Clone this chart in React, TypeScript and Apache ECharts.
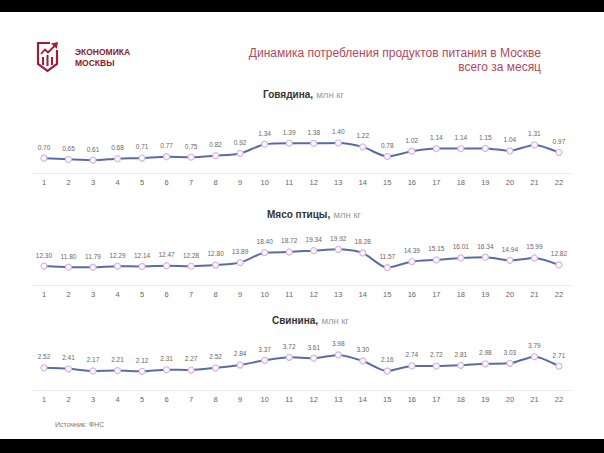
import React, { useEffect, useRef } from "react";
import * as echarts from "echarts";

const days = ["1","2","3","4","5","6","7","8","9","10","11","12","13","14","15","16","17","18","19","20","21","22"];
const beef = [0.70,0.65,0.61,0.68,0.71,0.77,0.75,0.82,0.92,1.34,1.39,1.38,1.40,1.22,0.78,1.02,1.14,1.14,1.15,1.04,1.31,0.97];
const poultry = [12.30,11.80,11.79,12.29,12.14,12.47,12.28,12.80,13.89,18.40,18.72,19.34,19.92,18.28,11.57,14.39,15.15,16.01,16.34,14.94,15.99,12.82];
const pork = [2.52,2.41,2.17,2.21,2.12,2.31,2.27,2.52,2.84,3.37,3.72,3.61,3.98,3.30,2.16,2.74,2.72,2.81,2.98,3.03,3.79,2.71];

const panelTitles = ["Говядина,", "Мясо птицы,", "Свинина,"];
const unitText = "млн кг";
const titleLine1 = "Динамика потребления продуктов питания в Москве";
const titleLine2 = "всего за месяц";
const sourceText = "Источник: ФНС";

const FONT = "'Liberation Sans', Arial, sans-serif";
const LINE = "#5a6ca6";

export default function App() {
  const ref = useRef<HTMLDivElement>(null);
  useEffect(() => {
    if (!ref.current) return;
    const chart = echarts.init(ref.current, undefined, { renderer: "svg" });
    const grids = [
      { top: 129.8, height: 43.75, min: 0, max: 2 },
      { top: 241.7, height: 44, min: 3.4, max: 23.4 },
      { top: 346, height: 44, min: 0, max: 5 },
    ];
    const datas = [beef, poultry, pork];
    const titleX = [263, 267, 272];
    const titleY = [94, 214, 320];
    const red = "#9e1f34";
    chart.setOption({
      animation: false,
      backgroundColor: "#ffffff",
      textStyle: { fontFamily: FONT },
      grid: grids.map((g) => ({ left: 31.7, width: 539.5, top: g.top, height: g.height, containLabel: false })),
      xAxis: grids.map((_, i) => ({
        type: "category",
        gridIndex: i,
        data: days,
        boundaryGap: true,
        axisLine: { show: true, lineStyle: { color: "#ececec", width: 1 } },
        axisTick: { show: false },
        axisLabel: { color: "#666", fontSize: 7.5, margin: 5, fontFamily: FONT },
        splitLine: { show: false },
      })),
      yAxis: grids.map((g, i) => ({
        type: "value",
        gridIndex: i,
        min: g.min,
        max: g.max,
        show: false,
        splitLine: { show: false },
      })),
      series: datas.map((d, i) => ({
        type: "line",
        xAxisIndex: i,
        yAxisIndex: i,
        data: d,
        smooth: 0.25,
        symbol: "circle",
        symbolSize: 6,
        showAllSymbol: true,
        lineStyle: { color: LINE, width: 2 },
        itemStyle: { color: "#fcf6fd", borderColor: "#d7b6e2", borderWidth: 1.2 },
        label: {
          show: true,
          position: "top",
          distance: 4,
          color: "#666",
          fontSize: 6.5,
          fontFamily: FONT,
          formatter: (p: any) => Number(p.value).toFixed(2),
        },
        z: 3,
      })),
      graphic: [
        { type: "rect", shape: { x: 0, y: 0, width: 604, height: 12 }, style: { fill: "#000" } },
        { type: "rect", shape: { x: 0, y: 439, width: 604, height: 14 }, style: { fill: "#000" } },
        {
          type: "group",
          x: 37,
          y: 42,
          children: [
            { type: "polyline", shape: { points: [[13, 1], [1, 1], [1, 22], [10.5, 29], [20, 22], [20, 8]] }, style: { stroke: red, lineWidth: 2.2, fill: "none" } },
            { type: "polyline", shape: { points: [[4, 12], [8, 7.5], [11, 10.5], [17.5, 4]] }, style: { stroke: red, lineWidth: 1.8, fill: "none" } },
            { type: "polygon", shape: { points: [[14, 1.5], [21, 0], [19.8, 6.8]] }, style: { fill: red } },
            { type: "rect", shape: { x: 5, y: 15, width: 2, height: 8 }, style: { fill: red } },
            { type: "rect", shape: { x: 9.5, y: 13, width: 2, height: 11 }, style: { fill: red } },
            { type: "rect", shape: { x: 14, y: 15, width: 2, height: 8 }, style: { fill: red } },
          ],
        },
        { type: "text", x: 75, y: 52, style: { text: "ЭКОНОМИКА", fill: "#8e1a2c", font: `bold 8.5px ${FONT}`, verticalAlign: "middle" } },
        { type: "text", x: 75, y: 62.5, style: { text: "МОСКВЫ", fill: "#8e1a2c", font: `bold 8.5px ${FONT}`, verticalAlign: "middle" } },
        { type: "text", x: 541, y: 53, style: { text: titleLine1, fill: "#b3485c", font: `12px ${FONT}`, align: "right", verticalAlign: "middle" } },
        { type: "text", x: 541, y: 67, style: { text: titleLine2, fill: "#b3485c", font: `12px ${FONT}`, align: "right", verticalAlign: "middle" } },
        ...panelTitles.map((t, i) => ({
          type: "text",
          x: titleX[i],
          y: titleY[i],
          style: {
            text: `{b|${t}} {g|${unitText}}`,
            verticalAlign: "middle",
            rich: {
              b: { fontFamily: FONT, fontWeight: "bold", fontSize: 10, fill: "#333" } as any,
              g: { fontFamily: FONT, fontSize: 9.5, fill: "#999" } as any,
            },
          },
        })),
        { type: "text", x: 55, y: 424, style: { text: sourceText, fill: "#777", font: `7px ${FONT}`, verticalAlign: "middle" } },
      ],
    });
    return () => chart.dispose();
  }, []);
  return <div ref={ref} style={{ position: "absolute", left: 0, top: 0, width: 604, height: 453 }} />;
}
